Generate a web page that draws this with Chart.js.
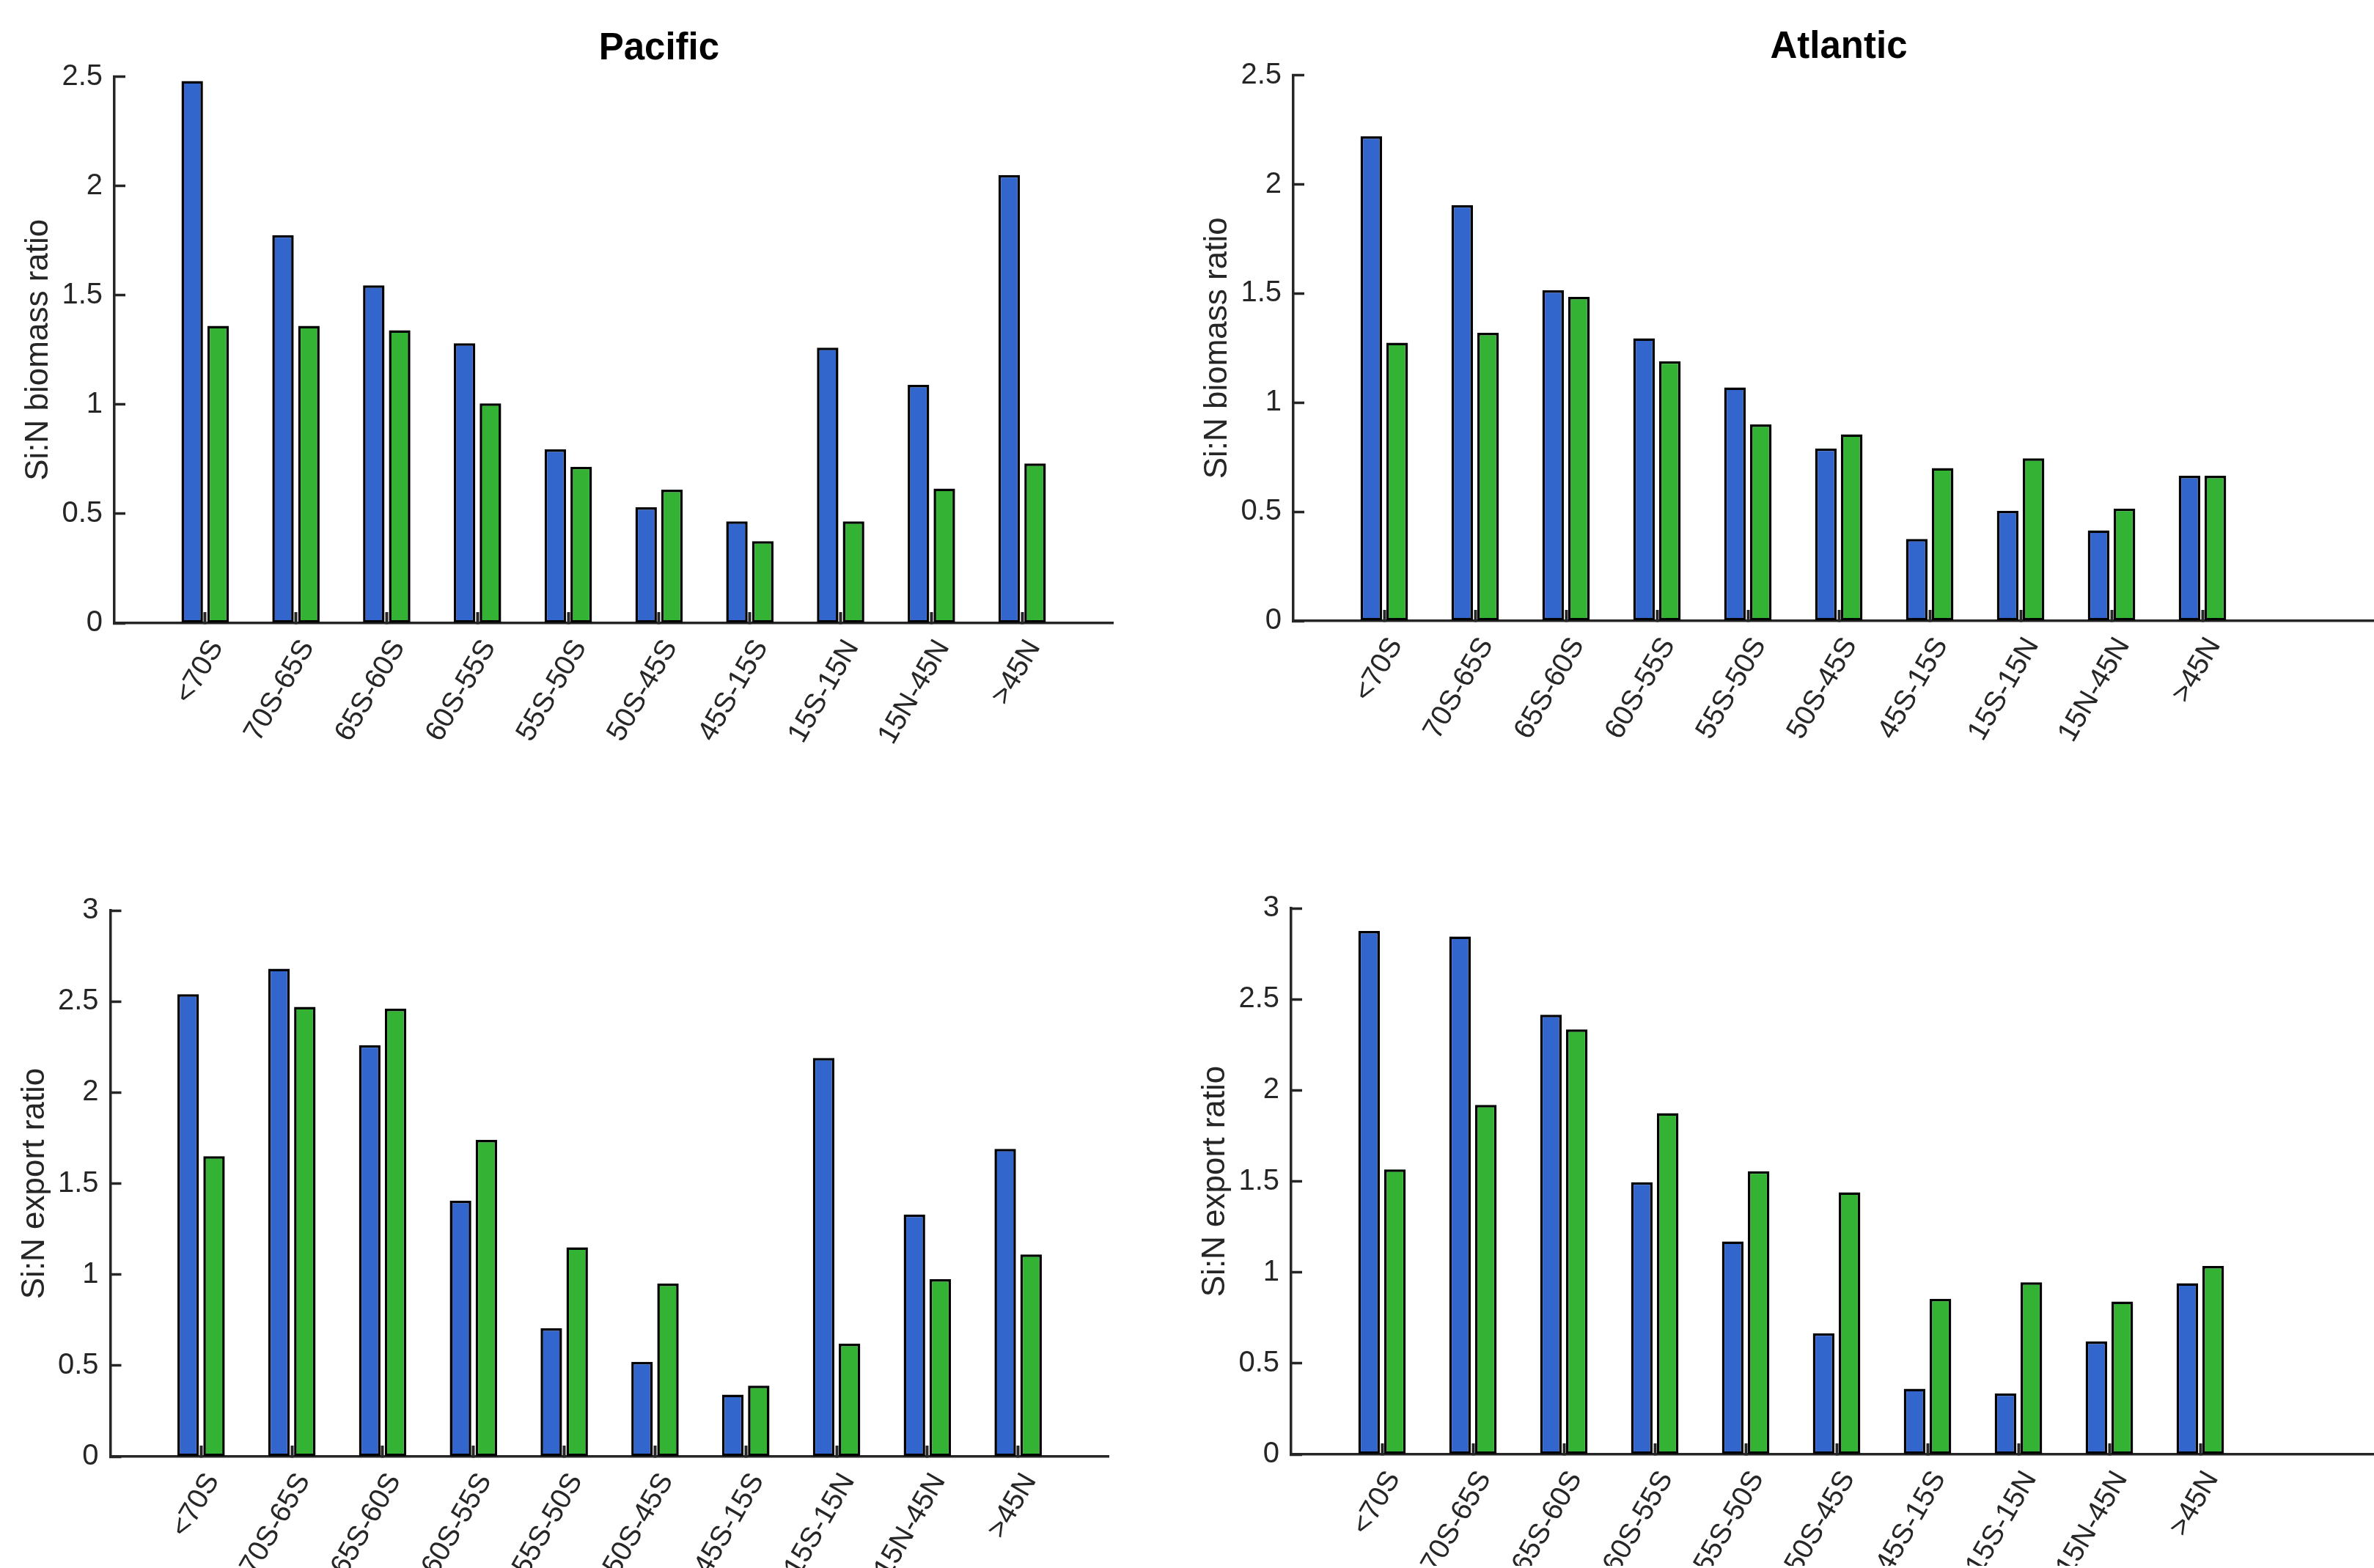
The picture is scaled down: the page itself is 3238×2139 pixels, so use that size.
<!DOCTYPE html>
<html><head><meta charset="utf-8">
<script src="https://cdn.jsdelivr.net/npm/chart.js@4.4.1/dist/chart.umd.min.js"></script>
<style>
html,body{margin:0;padding:0;background:#fff;overflow:hidden;width:3238px;height:2139px;position:relative}
canvas{position:absolute;display:block}
</style></head><body>
<canvas id="pacTop"></canvas>
<canvas id="atlTop"></canvas>
<canvas id="pacBot"></canvas>
<canvas id="atlBot"></canvas>
<script>
// ---------- data ----------
const regions = ['<70S','70S-65S','65S-60S','60S-55S','55S-50S','50S-45S','45S-15S','15S-15N','15N-45N','>45N'];

const pacificBiomassBlue  = [2.48, 1.775, 1.545, 1.28, 0.795, 0.53, 0.465, 1.26, 1.09, 2.05];
const pacificBiomassGreen = [1.36, 1.36, 1.34, 1.005, 0.715, 0.61, 0.375, 0.465, 0.615, 0.73];
const atlanticBiomassBlue  = [2.22, 1.905, 1.515, 1.295, 1.07, 0.79, 0.375, 0.505, 0.415, 0.665];
const atlanticBiomassGreen = [1.275, 1.32, 1.485, 1.19, 0.90, 0.855, 0.70, 0.745, 0.515, 0.665];

const pacificExportBlue  = [2.54, 2.68, 2.26, 1.405, 0.705, 0.52, 0.34, 2.19, 1.33, 1.69];
const pacificExportGreen = [1.65, 2.47, 2.46, 1.74, 1.15, 0.95, 0.39, 0.62, 0.975, 1.11];
const atlanticExportBlue  = [2.875, 2.845, 2.415, 1.495, 1.17, 0.665, 0.36, 0.335, 0.62, 0.94];
const atlanticExportGreen = [1.565, 1.92, 2.335, 1.875, 1.555, 1.44, 0.855, 0.945, 0.84, 1.035];

const biomassTicks = [0, 0.5, 1, 1.5, 2, 2.5];
const exportTicks  = [0, 0.5, 1, 1.5, 2, 2.5, 3];

// ---------- styling ----------
const BLUE = '#3366CC', GREEN = '#33B233', AXIS = '#262626';
const FONT = '"Liberation Sans", Arial, Helvetica, sans-serif';

const titlePlugin = {
  id: 'panelTitle',
  afterDraw(chart, args, opts) {
    if (!opts.text) return;
    const {ctx, chartArea, scales} = chart;
    ctx.save();
    ctx.font = 'bold 51px ' + FONT;
    ctx.fillStyle = '#000';
    ctx.textAlign = 'center';
    ctx.textBaseline = 'alphabetic';
    ctx.fillText(opts.text, scales.x.getPixelForValue(opts.centerIndex), chartArea.top - 24);
    ctx.restore();
  }
};

function makePanel(id, p) {
  const c = document.getElementById(id);
  c.width = p.cw; c.height = p.ch;
  c.style.left = p.cl + 'px'; c.style.top = p.ct + 'px';
  c.style.width = p.cw + 'px'; c.style.height = p.ch + 'px';
  const labels = [''].concat(regions, new Array(p.trail).fill(''));
  const pad = arr => [null].concat(arr, new Array(p.trail).fill(null));
  const yAxisW = p.al - p.cl;
  const areaTop = p.at - p.ct, areaBot = p.ab - p.ct;
  const xAxisH = p.xh;
  new Chart(c, {
    type: 'bar',
    data: {
      labels: labels,
      datasets: [
        {data: pad(p.blue), backgroundColor: BLUE, borderColor: '#000', borderWidth: 3.5, borderSkipped: false,
         categoryPercentage: 0.57, barPercentage: 0.83},
        {data: pad(p.green), backgroundColor: GREEN, borderColor: '#000', borderWidth: 3.5, borderSkipped: false,
         categoryPercentage: 0.57, barPercentage: 0.83}
      ]
    },
    options: {
      responsive: false, animation: false, devicePixelRatio: 1,
      layout: {padding: {left: 0, top: areaTop, right: p.cl + p.cw - p.ar, bottom: p.ch - areaBot - xAxisH}},
      plugins: {legend: {display: false}, tooltip: {enabled: false}, panelTitle: {text: p.title, centerIndex: 6}},
      scales: {
        x: {
          type: 'category', offset: false,
          grid: {display: true, offset: false, drawOnChartArea: false, drawTicks: true, tickLength: -15, tickWidth: 4,
                 tickColor: ctx => (labels[ctx.index] ? AXIS : 'rgba(0,0,0,0)')},
          border: {display: true, color: AXIS, width: 3.5},
          ticks: {autoSkip: false, minRotation: 60, maxRotation: 60, padding: 30, labelOffset: 16, color: AXIS,
                  font: {family: FONT, size: 39}},
          afterFit: s => { s.height = xAxisH; }
        },
        y: {
          min: 0, max: p.ticks[p.ticks.length - 1],
          afterBuildTicks: s => { s.ticks = p.ticks.map(v => ({value: v})); },
          grid: {display: true, drawOnChartArea: false, drawTicks: true, tickLength: -15, tickWidth: 3.5, tickColor: AXIS},
          border: {display: true, color: AXIS, width: 3.5},
          ticks: {padding: 31, color: AXIS, font: {family: FONT, size: 40}, callback: v => String(v)},
          title: {display: true, text: p.ytitle, color: AXIS, font: {family: FONT, size: 44},
                  padding: {top: (p.al - 103 - p.cl) - 26.4, bottom: 0}},
          afterFit: s => { s.width = yAxisW; }
        }
      }
    },
    plugins: [titlePlugin]
  });
}

makePanel('pacTop', {cl: 0, ct: 0, cw: 1760, ch: 1130, al: 156, ar: 1518, at: 104.5, ab: 850, xh: 250, trail: 1,
  blue: pacificBiomassBlue, green: pacificBiomassGreen, ticks: biomassTicks, ytitle: 'Si:N biomass ratio', title: 'Pacific'});
makePanel('atlTop', {cl: 1560, ct: 0, cw: 1800, ch: 1130, al: 1764, ar: 3252, at: 102.7, ab: 847, xh: 250, trail: 2,
  blue: atlanticBiomassBlue, green: atlanticBiomassGreen, ticks: biomassTicks, ytitle: 'Si:N biomass ratio', title: 'Atlantic'});
makePanel('pacBot', {cl: 0, ct: 1135, cw: 1760, ch: 1004, al: 150.5, ar: 1512.5, at: 1242, ab: 1987, xh: 152, trail: 1,
  blue: pacificExportBlue, green: pacificExportGreen, ticks: exportTicks, ytitle: 'Si:N export ratio', title: ''});
makePanel('atlBot', {cl: 1560, ct: 1135, cw: 1800, ch: 1004, al: 1761, ar: 3249, at: 1239, ab: 1984, xh: 152, trail: 2,
  blue: atlanticExportBlue, green: atlanticExportGreen, ticks: exportTicks, ytitle: 'Si:N export ratio', title: ''});
</script>
</body></html>
